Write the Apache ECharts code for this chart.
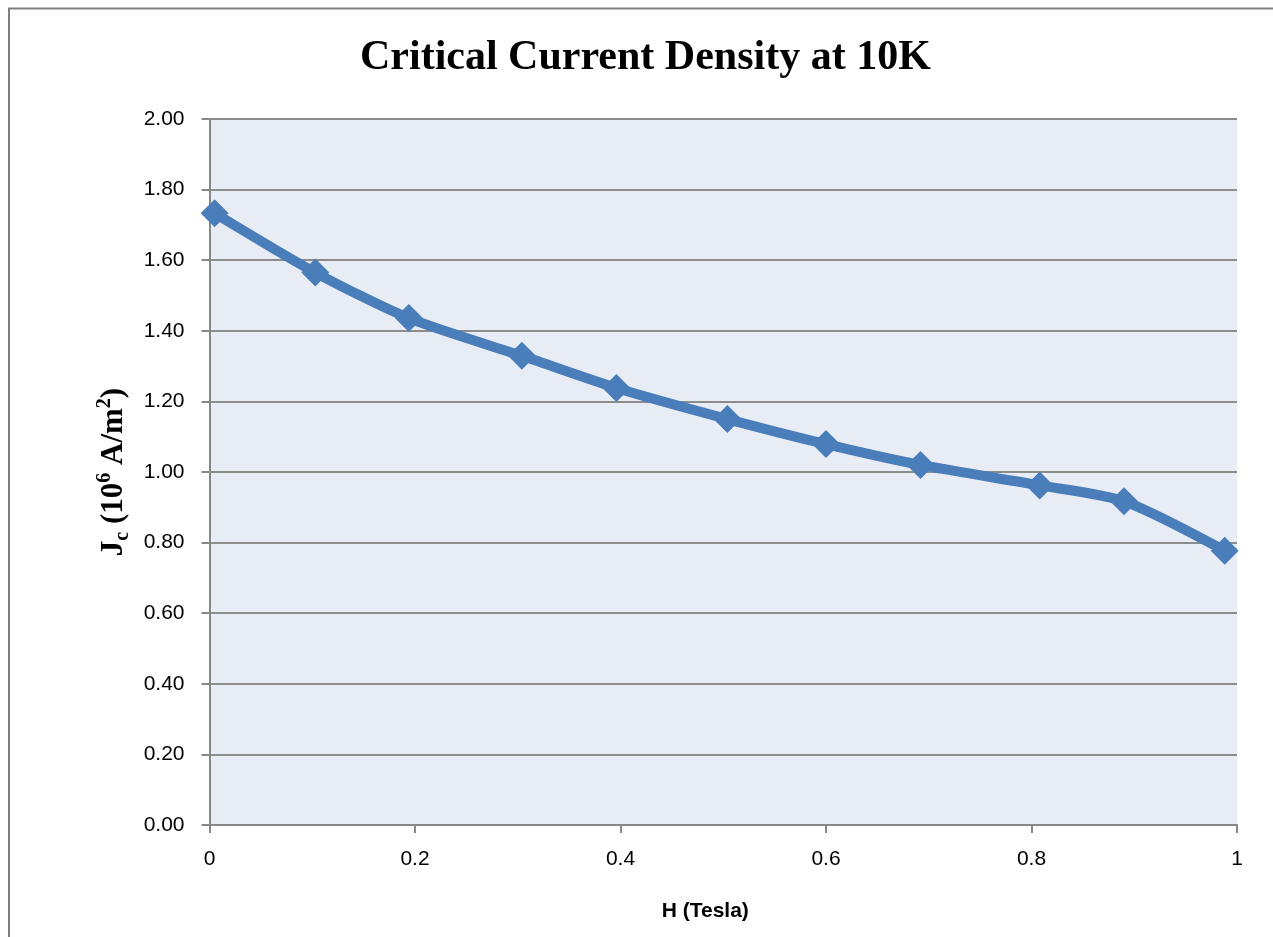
<!DOCTYPE html>
<html>
<head>
<meta charset="utf-8">
<script src="https://cdn.jsdelivr.net/npm/echarts@6/dist/echarts.min.js"></script>
<style>html,body{margin:0;padding:0;background:#fff;}#c{width:1273px;height:937px;}</style>
</head>
<body>
<div id="c"></div>
<script>
var titleText = 'Critical Current Density at 10K';
var xName = 'H (Tesla)';
var hValues = [0.005, 0.103, 0.194, 0.304, 0.396, 0.504, 0.600, 0.692, 0.808, 0.890, 0.988];
var jcValues = [1.733, 1.565, 1.436, 1.329, 1.238, 1.150, 1.079, 1.020, 0.962, 0.917, 0.777];
var xTicks = {min: 0, max: 1, interval: 0.2};
var yTicks = {min: 0, max: 2, interval: 0.2};

var data = hValues.map(function (h, i) { return [h, jcValues[i]]; });
var chart = echarts.init(document.getElementById('c'));
chart.setOption({
  backgroundColor: '#ffffff',
  animation: false,
  title: {
    text: titleText, left: 355, top: 32,
    textStyle: {fontFamily: 'Liberation Serif', fontWeight: 'bold', fontSize: 42, color: '#000'}
  },
  grid: {left: 209.5, right: 36, top: 119, bottom: 112, show: true, backgroundColor: '#E8ECF4', borderWidth: 0},
  xAxis: {
    type: 'value', min: xTicks.min, max: xTicks.max, interval: xTicks.interval,
    name: xName, nameLocation: 'middle', nameGap: 76,
    nameTextStyle: {fontFamily: 'Liberation Sans', fontWeight: 'bold', fontSize: 21, color: '#000', padding: [0, 36, 0, 0]},
    axisLine: {show: true, onZero: false, lineStyle: {color: '#888888', width: 2}},
    axisTick: {show: true, length: 8, lineStyle: {color: '#888888', width: 2}},
    axisLabel: {fontFamily: 'Liberation Sans', fontSize: 21, color: '#000', margin: 24,
      formatter: function (v) { return String(Math.round(v * 10) / 10); }},
    splitLine: {show: false}
  },
  yAxis: {
    type: 'value', min: yTicks.min, max: yTicks.max, interval: yTicks.interval,
    name: '{b|J}{sub|c}{b| (10}{sup|6}{b| A/m}{sup|2}{b|)}',
    nameLocation: 'middle', nameGap: 72,
    nameTextStyle: {
      rich: {
        b: {fontFamily: 'Liberation Serif', fontWeight: 'bold', fontSize: 31, color: '#000', lineHeight: 38, verticalAlign: 'middle'},
        sub: {fontFamily: 'Liberation Serif', fontWeight: 'bold', fontSize: 20, color: '#000', lineHeight: 38, verticalAlign: 'bottom'},
        sup: {fontFamily: 'Liberation Serif', fontWeight: 'bold', fontSize: 20, color: '#000', lineHeight: 38, verticalAlign: 'top'}
      }
    },
    axisLine: {show: true, lineStyle: {color: '#888888', width: 2}},
    axisTick: {show: true, length: 8, lineStyle: {color: '#888888', width: 2}},
    axisLabel: {fontFamily: 'Liberation Sans', fontSize: 21, color: '#000', margin: 25,
      formatter: function (v) { return v.toFixed(2); }},
    splitLine: {show: true, lineStyle: {color: '#8c8c8c', width: 2}}
  },
  series: [{
    type: 'line', data: data, smooth: 0.25,
    symbol: 'diamond', symbolSize: 28,
    lineStyle: {color: '#4A7EBB', width: 10},
    itemStyle: {color: '#4A7EBB'},
    z: 5
  }],
  graphic: [
    {type: 'line', shape: {x1: 8, y1: 8.5, x2: 1273, y2: 8.5}, style: {stroke: '#7f7f7f', lineWidth: 2}, silent: true},
    {type: 'line', shape: {x1: 9, y1: 8, x2: 9, y2: 937}, style: {stroke: '#7f7f7f', lineWidth: 2}, silent: true}
  ]
});
</script>
</body>
</html>
